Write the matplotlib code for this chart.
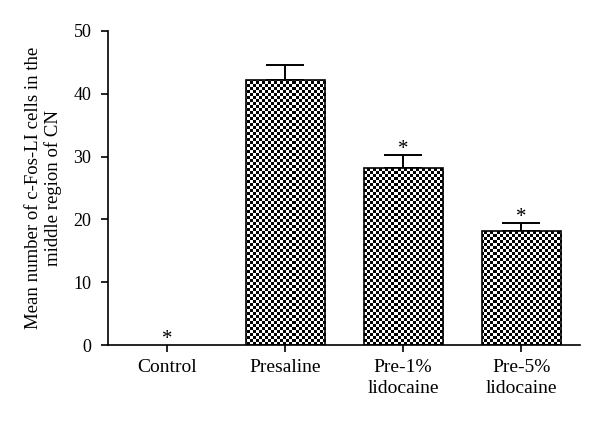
import matplotlib
matplotlib.use('Agg')
import matplotlib.pyplot as plt
import numpy as np

groups = ['Control', 'Presaline', 'Pre-1%\nlidocaine', 'Pre-5%\nlidocaine']
means = [0.0, 42.2, 28.2, 18.1]
sems = [0.0, 2.4, 2.0, 1.3]
signif = [True, False, True, True]

plt.rcParams['font.family'] = ['Liberation Serif', 'DejaVu Serif']

fig = plt.figure(figsize=(6, 4.24), dpi=100)
ax = fig.add_axes([0.18, 0.1863, 0.787, 0.7407])

xs = np.arange(len(groups))
bars = ax.bar(xs, means, width=0.67, color='white', edgecolor='black', linewidth=1.2, zorder=2)

# checkerboard fill, clipped to each bar
ny, nx = 105, 157
checker = (np.indices((ny, nx)).sum(axis=0) % 2).astype(float)
for b in bars:
    if b.get_height() <= 0:
        b.set_linewidth(0)
        continue
    im = ax.imshow(checker, cmap='gray', extent=(-0.5, 3.5, 0, 50), aspect='auto',
                   interpolation='nearest', zorder=2.5)
    im.set_clip_path(b)
    b.set_facecolor('none')
    b.set_zorder(3)

ax.errorbar(xs[1:], means[1:], yerr=[np.zeros(3), sems[1:]], fmt='none', ecolor='black',
            elinewidth=1.4, capsize=14, capthick=1.4, zorder=1)

for x, m, s, sig in zip(xs, means, sems, signif):
    if sig:
        ax.text(x, m + s - 0.6, '*', ha='center', va='bottom', fontsize=15)

ax.set_xlim(-0.5, 3.5)
ax.set_ylim(0, 50)
ax.set_yticks([0, 10, 20, 30, 40, 50])
ax.set_xticks(xs)
ax.set_xticklabels(groups, fontsize=14, linespacing=1.35)
ax.tick_params(axis='y', labelsize=13, length=5, width=1.2, direction='out', pad=7)
ax.tick_params(axis='x', length=5, width=1.2, direction='out', pad=5)
ax.spines['top'].set_visible(False)
ax.spines['right'].set_visible(False)
ax.spines['left'].set_linewidth(1.2)
ax.spines['bottom'].set_linewidth(1.2)
ax.set_ylabel('Mean number of c-Fos-LI cells in the\nmiddle region of CN', fontsize=13.5,
              labelpad=8)

fig.savefig('out.png', dpi=100)
